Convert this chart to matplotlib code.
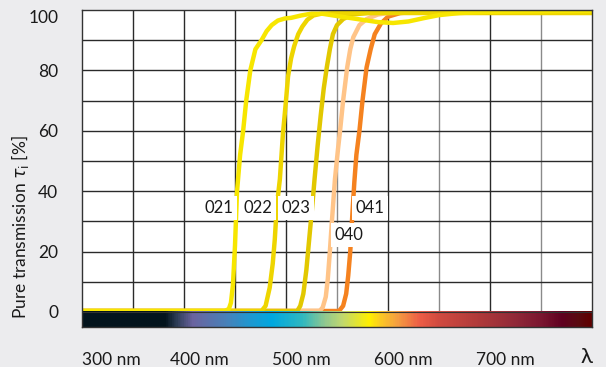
import numpy as np
import matplotlib.pyplot as plt
from matplotlib.colors import LinearSegmentedColormap

plt.rcParams['font.family'] = ['Lato', 'DejaVu Sans']

# transmission curves (wavelength nm, transmission %)
wl_021 = [300, 440, 444, 446, 448, 450, 452, 455, 458, 461, 465, 470, 476, 481, 486, 492, 499, 505,
          515, 525, 535, 550, 570, 590, 605, 620, 635, 650, 670, 700, 750, 800]
t_021 = [0.3, 0.3, 1, 3, 9, 22, 40, 52, 60, 70, 80, 87, 90, 93, 95, 96.5, 97.2, 97.4,
         98.2, 98.8, 98.8, 98.0, 97.0, 96.0, 95.7, 96.2, 97.3, 98.3, 99.0, 99.4, 99.6, 99.7]

wl_022 = [300, 476, 480, 484, 487, 489, 491, 494, 497, 500, 502, 505, 508, 512, 516, 521, 527, 535, 550, 580, 800]
t_022 = [0.3, 0.3, 2, 8, 16, 24, 35, 44, 59, 70, 78, 84, 88, 92, 94.5, 96.8, 98.2, 98.8, 99.0, 99.0, 99.0]

wl_023 = [300, 511, 514, 517, 520, 523, 526, 528, 531, 534, 537, 540, 543, 546, 550, 556, 565, 580, 600, 800]
t_023 = [0.3, 0.3, 2, 6, 14, 25, 36, 44, 55, 65, 74, 81, 87, 92, 95, 97, 98.5, 99.0, 99.1, 99.1]

wl_040 = [300, 533, 536, 539, 541, 543, 545, 548, 551, 553, 556, 560, 563, 566, 572, 579, 590, 600, 620, 800]
t_040 = [0.3, 0.3, 1.5, 5, 11, 20, 30, 44, 54, 60, 70, 81, 87, 91, 95, 97, 98.5, 99.0, 99.2, 99.2]

wl_041 = [300, 552, 556, 559, 561, 563, 565, 567, 569, 572, 575, 579, 583, 587, 593, 600, 612, 630, 650, 800]
t_041 = [0.3, 0.3, 2, 6, 12, 20, 32, 43, 52, 60, 70, 81, 87, 92, 95.5, 97.8, 99.0, 99.4, 99.5, 99.5]

names = ['021', '022', '023', '040', '041']
colors = ['#f7e600', '#eed500', '#e2c800', '#ffc488', '#f5821f']

# label positions (nm, %)
label_x = [434, 472.5, 510, 562, 582.5]
label_y = [34.4, 34.4, 34.4, 25.5, 34.4]

x_ticks = [300, 400, 500, 600, 700]
y_ticks = [0, 20, 40, 60, 80, 100]

# spectrum bar below the plot
bar_nm = [300, 381, 392, 408, 440, 464, 486, 516, 538, 555, 582, 595, 609, 631, 651, 690, 727, 752, 772, 788, 800]
bar_colors = ['#03141d', '#03141d', '#2c3c55', '#6b64a0', '#4a80b8', '#2098d0', '#00a8e0', '#30b8c0',
              '#90c890', '#c0d870', '#fff000', '#fbc428', '#f5a040', '#ee5e46', '#d04a40', '#b03a3a',
              '#902838', '#7a1530', '#600020', '#5a0a10', '#600000']

fig = plt.figure(figsize=(6.06, 3.67), dpi=100, facecolor='#ececee')
ax = fig.add_axes([82 / 606, 1 - 327 / 367, 510 / 606, 317 / 367])
ax.set_xlim(300, 800)
ax.set_ylim(-5, 100)

# grid
for x in range(350, 800, 50):
    c = '#8a8a8a' if x in (550, 650, 750) else '#2a2a2a'
    ax.axvline(x, color=c, lw=1.0, zorder=1)
for y in range(10, 100, 10):
    ax.axhline(y, color='#2a2a2a', lw=1.0, zorder=1)

series = [(wl_021, t_021), (wl_022, t_022), (wl_023, t_023), (wl_040, t_040), (wl_041, t_041)]
for i, (wl, t) in enumerate(series):
    ax.plot(wl, t, color=colors[i], lw=3.2, solid_joinstyle='round', solid_capstyle='round',
            zorder=3 + (len(series) - i) * 0.1)

for name, lx, ly in zip(names, label_x, label_y):
    ax.text(lx, ly, name, ha='center', va='center', fontsize=12, color='#1a1a1a', zorder=4,
            bbox=dict(fc='white', ec='none', pad=2.6))

cmap = LinearSegmentedColormap.from_list(
    'spectrum', list(zip((np.array(bar_nm) - 300) / 500, bar_colors)))
ax.imshow(np.linspace(0, 1, 600)[None, :], extent=(300, 800, -5, 0), aspect='auto',
          cmap=cmap, zorder=5)
ax.axhline(0, color='#333333', lw=0.8, zorder=6)

for s in ax.spines.values():
    s.set_color('#333333')
    s.set_linewidth(1.0)
    s.set_zorder(7)

ax.set_xticks([])
ax.set_yticks(y_ticks)
ax.set_yticklabels([str(v) for v in y_ticks])
ax.tick_params(axis='y', length=0, pad=17, labelsize=12.5, labelcolor='#1a1a1a')
ax.get_yticklabels()[-1].set_va('top')

trans = ax.get_xaxis_transform()
for v in x_ticks:
    if v == 300:
        ax.text(v, -0.104, f'{v} nm', transform=trans, ha='left', va='center', fontsize=12.5, color='#1a1a1a')
    else:
        ax.text(v - 13.5, -0.104, f'{v} nm', transform=trans, ha='left', va='center', fontsize=12.5, color='#1a1a1a')
ax.text(795, -0.095, 'λ', transform=trans, ha='center', va='center', fontsize=16, color='#1a1a1a')

ax.set_ylabel(r'Pure transmission $\tau_\mathrm{i}$ [%]', fontsize=12.5, color='#1a1a1a', va='center')
ax.yaxis.set_label_coords(-0.122, 0.315)

fig.savefig('out.png', dpi=100, facecolor=fig.get_facecolor())
